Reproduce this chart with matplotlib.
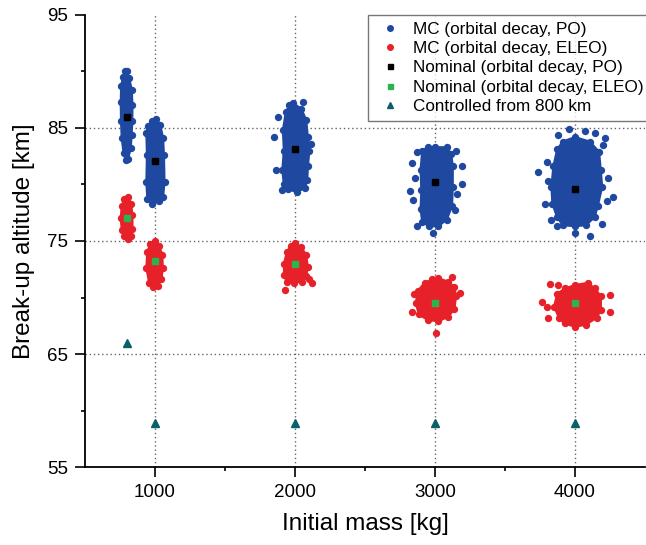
import matplotlib
matplotlib.use("Agg")
import matplotlib.pyplot as plt
from matplotlib.lines import Line2D
import numpy as np

plt.rcParams["font.family"] = ["Liberation Sans", "DejaVu Sans"]

# nominal cases
masses = [800, 1000, 2000, 3000, 4000]
nominal_po = [86.0, 82.1, 83.1, 80.2, 79.6]
nominal_eleo = [77.0, 73.2, 73.0, 69.5, 69.5]
controlled = [66.0, 58.9, 58.9, 58.9, 58.9]

# Monte Carlo clouds: outer edge (mass, altitude) + stray samples
po_800_edge = [(798, 90.0), (816, 89.4), (834, 88.4), (839, 87.0), (838, 85.6), (833, 84.4),
               (827, 83.2), (808, 82.3), (790, 82.2), (775, 82.8), (762, 84.1), (757, 85.6),
               (755, 87.3), (758, 88.7), (770, 89.5), (784, 90.0)]
po_1000_edge = [(1010, 85.8), (1037, 85.3), (1058, 84.1), (1064, 82.6), (1068, 80.2), (1058, 78.9),
                (1030, 78.5), (978, 78.3), (945, 78.7), (938, 80.2), (942, 82.6), (938, 84.6),
                (950, 85.2), (978, 85.6)]
po_2000_edge = [(1985, 87.2), (2046, 86.7), (2080, 85.7), (2092, 84.2), (2103, 83.0), (2092, 81.6),
                (2088, 80.4), (2070, 79.7), (2012, 79.3), (1952, 79.6), (1920, 80.0), (1909, 81.3),
                (1920, 83.0), (1913, 84.8), (1934, 86.4), (1960, 87.0)]
po_2000_out = [(1850, 84.2), (1864, 81.3), (1905, 79.5), (2112, 83.6), (1878, 86.0), (2060, 87.3)]
po_3000_edge = [(3000, 83.3), (3084, 83.3), (3116, 82.7), (3127, 81.6), (3127, 79.8), (3122, 78.1),
                (3084, 76.9), (3024, 76.3), (2958, 76.3), (2908, 76.7), (2897, 77.8), (2902, 79.5),
                (2897, 81.3), (2908, 83.0), (2948, 83.3)]
po_3000_out = [(2833, 81.9), (2821, 79.4), (2845, 78.6), (3190, 81.6), (3190, 80.0), (3143, 77.7),
               (2869, 76.3), (2988, 75.7), (2870, 82.9), (3150, 83.0), (3155, 79.2), (2860, 80.6)]
po_4000_edge = [(4000, 84.2), (4105, 83.8), (4172, 82.9), (4184, 81.3), (4194, 79.8), (4163, 78.1),
                (4140, 77.1), (4078, 76.4), (4000, 76.3), (3912, 76.4), (3872, 77.1), (3838, 78.3),
                (3831, 79.8), (3845, 81.6), (3872, 83.1), (3912, 83.8)]
po_4000_out = [(3738, 81.1), (3881, 84.4), (4071, 84.7), (4214, 84.1), (4274, 78.9), (4226, 78.5),
               (3786, 78.3), (3869, 76.3), (4107, 75.4), (4000, 75.7), (3810, 80.3), (4202, 83.5),
               (3955, 84.9), (4145, 84.6), (4236, 80.6), (3800, 82.0), (4190, 76.5), (3830, 76.9)]

eleo_800_edge = [(810, 78.9), (829, 78.3), (839, 77.3), (839, 76.1), (829, 75.4), (805, 75.2),
                 (778, 75.4), (762, 76.0), (755, 77.0), (762, 78.1), (780, 78.7)]
eleo_1000_edge = [(1000, 75.0), (1027, 74.6), (1052, 73.8), (1056, 72.6), (1046, 71.6), (1018, 71.0),
                  (988, 70.9), (958, 71.3), (938, 72.6), (944, 74.0), (965, 74.7)]
eleo_2000_edge = [(2000, 74.8), (2040, 74.5), (2080, 73.8), (2091, 72.7), (2080, 71.9), (2050, 71.4),
                  (1990, 71.3), (1940, 71.4), (1921, 72.0), (1921, 73.0), (1941, 74.0), (1970, 74.6)]
eleo_2000_out = [(1929, 70.7), (2119, 71.3), (2101, 71.6)]
eleo_3000_edge = [(3024, 71.7), (3096, 71.4), (3139, 70.9), (3150, 70.1), (3139, 69.0), (3096, 68.3),
                  (3024, 67.9), (2948, 68.0), (2885, 68.5), (2862, 69.5), (2878, 70.6), (2925, 71.3),
                  (2980, 71.6)]
eleo_3000_out = [(3005, 66.9), (2833, 68.7), (3179, 70.4), (3120, 71.8), (2850, 70.3)]
eleo_4000_edge = [(4090, 71.3), (4143, 70.8), (4185, 70.1), (4185, 68.9), (4154, 68.2), (4078, 67.6),
                  (4000, 67.4), (3925, 67.7), (3885, 68.2), (3850, 69.2), (3872, 70.3), (3925, 70.8),
                  (4000, 71.1)]
eleo_4000_out = [(3762, 69.6), (3821, 71.2), (3881, 71.1), (4250, 70.2), (4250, 68.7), (3810, 68.2),
                 (3798, 69.2)]

po_clouds = [(po_800_edge, []), (po_1000_edge, []), (po_2000_edge, po_2000_out),
             (po_3000_edge, po_3000_out), (po_4000_edge, po_4000_out)]
eleo_clouds = [(eleo_800_edge, []), (eleo_1000_edge, []), (eleo_2000_edge, eleo_2000_out),
               (eleo_3000_edge, eleo_3000_out), (eleo_4000_edge, eleo_4000_out)]

BLUE = "#1f48a0"
RED = "#e6212a"
GREEN = "#2bb34f"
TEAL = "#0a5f6b"

fig = plt.figure(figsize=(6.46, 5.45), dpi=100)
ax = fig.add_axes([0.1316, 0.1431, 0.8669, 0.8294])


def draw_cloud(edge, stray, color):
    e = np.array(edge)
    ax.fill(e[:, 0], e[:, 1], color=color, lw=1.5, zorder=3)
    pts = np.array(edge + stray)
    ax.scatter(pts[:, 0], pts[:, 1], s=28, color=color, linewidths=0, zorder=3)


for edge, stray in po_clouds:
    draw_cloud(edge, stray, BLUE)
for edge, stray in eleo_clouds:
    draw_cloud(edge, stray, RED)

ax.plot(masses, nominal_po, "s", color="black", ms=3.8, zorder=5)
ax.plot(masses, nominal_eleo, "s", color=GREEN, ms=3.8, zorder=5)
ax.plot(masses, controlled, "^", color=TEAL, ms=5.5, zorder=5)

# dotted grid at the labelled inner ticks
for x in [1000, 2000, 3000, 4000]:
    ax.axvline(x, color="#666666", ls=(0, (1, 2)), lw=1.0, zorder=1)
for y in [65, 75, 85]:
    ax.axhline(y, color="#666666", ls=(0, (1, 2)), lw=1.0, zorder=1)

ax.set_xlim(500, 4500)
ax.set_ylim(55, 95)
ax.set_xticks([1000, 2000, 3000, 4000])
ax.set_xticks([1500, 2500, 3500], minor=True)
ax.set_yticks([55, 65, 75, 85, 95])
ax.set_yticks([60, 70, 80, 90], minor=True)
ax.tick_params(which="major", direction="out", length=7, width=1.2, labelsize=13.5, pad=5)
ax.tick_params(which="minor", direction="out", length=3, width=1.2)

for side in ["top", "right"]:
    ax.spines[side].set_visible(False)
for side in ["left", "bottom"]:
    ax.spines[side].set_linewidth(1.3)

ax.set_xlabel("Initial mass [kg]", fontsize=17.5, labelpad=9)
ax.set_ylabel("Break-up altitude [km]", fontsize=17.5, labelpad=9)

handles = [
    Line2D([], [], ls="none", marker="o", color=BLUE, ms=4),
    Line2D([], [], ls="none", marker="o", color=RED, ms=4),
    Line2D([], [], ls="none", marker="s", color="black", ms=3.6),
    Line2D([], [], ls="none", marker="s", color=GREEN, ms=3.6),
    Line2D([], [], ls="none", marker="^", color=TEAL, ms=4.5),
]
labels = ["MC (orbital decay, PO)", "MC (orbital decay, ELEO)", "Nominal (orbital decay, PO)",
          "Nominal (orbital decay, ELEO)", "Controlled from 800 km"]
leg = fig.legend(handles, labels, loc="upper left", bbox_to_anchor=(368 / 646, 1 - 15 / 545),
                 fontsize=12.3, frameon=True, fancybox=False, borderpad=0.4, labelspacing=0.25,
                 handlelength=1.8, handletextpad=0.45, borderaxespad=0)
leg.get_frame().set_edgecolor("#555555")
leg.get_frame().set_linewidth(1.0)

plt.savefig("out.png", dpi=100)
plt.close()
